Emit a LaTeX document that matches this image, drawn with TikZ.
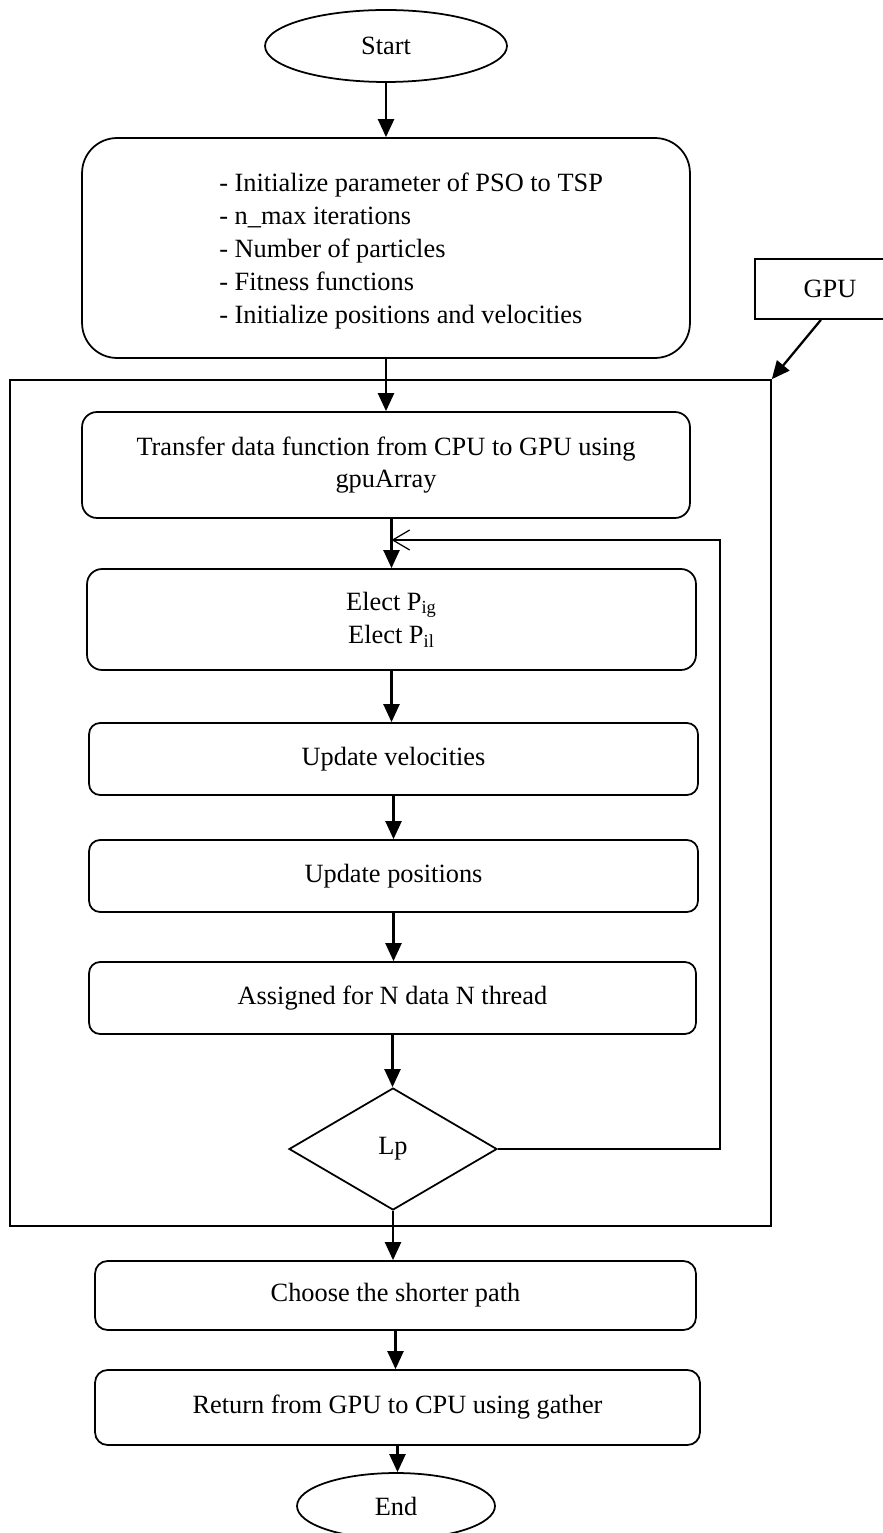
\documentclass[tikz,border=0pt]{standalone}
\usepackage{fontspec}
\setmainfont{Liberation Serif}
\usetikzlibrary{arrows.meta, shapes.geometric, calc}

\begin{document}
\begin{tikzpicture}[x=0.02cm, y=-0.02cm,
          every node/.style={font=\fontsize{15}{18.7}\selectfont},
          blk/.style={draw, line width=1pt, rounded corners=0.3cm, inner sep=0pt},
          term/.style={draw, ellipse, line width=1pt, inner sep=0pt},
          ar/.style={line width=1.3pt, -{Triangle[length=3.6mm, width=3.2mm]}},
          lar/.style={line width=0.7pt, -{Straight Barb[length=3.4mm, width=4mm]}}
        ]
        \useasboundingbox (0,0) rectangle (882,1533);

        % GPU part
        \node[draw, line width=1pt, inner sep=0pt, minimum width=15.22cm, minimum height=16.92cm] (gpuarea) at (390.5,803) {};
        \node[draw, line width=1pt, inner sep=0pt, minimum width=3cm, minimum height=1.2cm] (gpu) at (830,289) {GPU};
        \draw[ar] ($(gpu.south west)!0.44!(gpu.south east)$) -- (gpuarea.north east);

        \node[term, minimum width=4.84cm, minimum height=1.44cm] (start) at (386,46) {Start};
        \node[blk, rounded corners=0.7cm, minimum width=12.16cm, minimum height=4.4cm] (init) at (386,248) {};
        \node[anchor=west, align=left, inner sep=0pt] (initTxt) at (219,251) {- Initialize parameter of PSO to TSP\\
          - n\_max iterations\\
          - Number of particles\\
          - Fitness functions\\
          - Initialize positions and velocities};
        \node[blk, align=center, minimum width=12.16cm, minimum height=2.12cm] (transfer) at (386,465)
          {Transfer data function from CPU to GPU using\\ gpuArray};
        \node[blk, align=center, minimum width=12.18cm, minimum height=2.02cm] (elect) at (391.5,619.5)
          {Elect P\textsubscript{ig}\\ Elect P\textsubscript{il}};
        \node[blk, rounded corners=0.22cm, minimum width=12.18cm, minimum height=1.44cm] (updv) at (393.5,759) {Update velocities};
        \node[blk, rounded corners=0.22cm, minimum width=12.18cm, minimum height=1.44cm] (updp) at (393.5,876) {Update positions};
        \node[blk, rounded corners=0.22cm, minimum width=12.14cm, minimum height=1.44cm] (assign) at (392.5,998) {Assigned for N data N thread};
        \node[draw, diamond, line width=1pt, inner sep=0pt, minimum width=4.16cm, minimum height=2.44cm] (lp) at (393,1149) {Lp};
        \node[blk, rounded corners=0.25cm, minimum width=12.02cm, minimum height=1.38cm] (choose) at (395.5,1295.5) {Choose the shorter path};
        \node[blk, rounded corners=0.25cm, minimum width=12.1cm, minimum height=1.5cm] (ret) at (397.5,1407.5) {Return from GPU to CPU using gather};
        \node[term, minimum width=3.96cm, minimum height=1.32cm] (endn) at (396,1506) {End};

        \draw[ar] (start) -- (init);
        \draw[ar] (init) -- (transfer);
        \draw[ar] (elect.north |- transfer.south) -- (elect.north);
        \draw[ar] (elect.south) -- (elect.south |- updv.north);
        \draw[ar] (updv.south) -- (updv.south |- updp.north);
        \draw[ar] (updp.south) -- (updp.south |- assign.north);
        \draw[ar] (assign.south) -- (assign.south |- lp.north);
        \draw[ar] (lp.south) -- (lp.south |- choose.north);
        \draw[ar] (choose.south) -- (choose.south |- ret.north);
        \draw[ar] (ret.south) -- (ret.south |- endn.north);

        % loop back
        \coordinate (loopc) at (720,540);
        \draw[lar] (lp.east) -| (loopc) -- (elect.north |- loopc);
      \end{tikzpicture}
\end{document}
